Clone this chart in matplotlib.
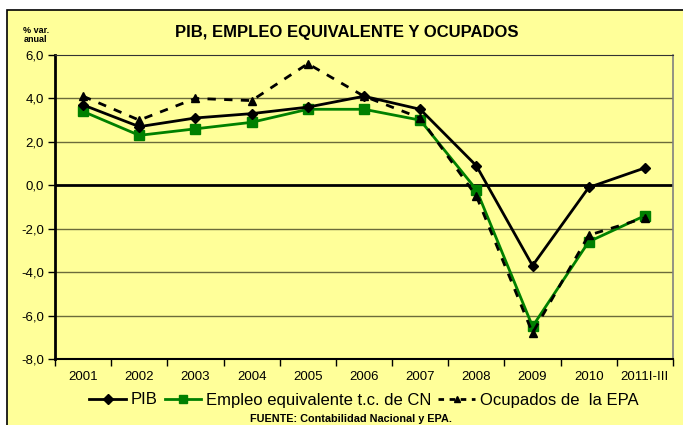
import matplotlib
matplotlib.use('Agg')
import matplotlib.pyplot as plt
from matplotlib.patches import Rectangle
from matplotlib.lines import Line2D

plt.rcParams['font.family'] = ['Liberation Sans', 'DejaVu Sans']

YEARS = ['2001', '2002', '2003', '2004', '2005', '2006', '2007', '2008',
         '2009', '2010', '2011I-III']
PIB = [3.7, 2.7, 3.1, 3.3, 3.6, 4.1, 3.5, 0.9, -3.7, -0.1, 0.8]
EMPLEO = [3.4, 2.3, 2.6, 2.9, 3.5, 3.5, 3.0, -0.2, -6.5, -2.6, -1.4]
EPA = [4.1, 3.0, 4.0, 3.9, 5.6, 4.1, 3.1, -0.5, -6.8, -2.3, -1.5]
YTICKS = [-8, -6, -4, -2, 0, 2, 4, 6]

BG = '#ffff99'
GREEN = '#008000'
GRID = '#6b6b3a'

fig = plt.figure(figsize=(6.83, 4.25), dpi=100)
fig.patch.set_facecolor('white')
W, H = 683, 425
# yellow chart frame, kept behind the axes
fig.patches.append(Rectangle((7 / W, -0.01), 1.0, (H - 10) / H + 0.01,
                             transform=fig.transFigure, facecolor=BG,
                             edgecolor='black', linewidth=1.2, zorder=-10))

ax = fig.add_axes([55 / W, (H - 359) / H, (673 - 55) / W, (359 - 55) / H])
ax.set_zorder(1)
ax.set_facecolor(BG)
xs = list(range(len(YEARS)))

ax.plot(xs, PIB, color='black', linewidth=2, marker='D', markersize=5, zorder=4)
ax.plot(xs, EMPLEO, color=GREEN, linewidth=2, marker='s', markersize=7, zorder=3)
ax.plot(xs, EPA, color='black', linewidth=2, linestyle=(0, (3, 3)),
        marker='^', markersize=6, zorder=5)

ax.set_xlim(-0.5, len(YEARS) - 0.5)
ax.set_ylim(-8, 6)
ax.set_yticks(YTICKS)
ax.set_yticklabels(['{:.1f}'.format(v).replace('.', ',') for v in YTICKS], fontsize=9.5)
for v in YTICKS:
    if v == 0:
        ax.axhline(0, color='black', linewidth=2, zorder=2)
    elif v not in (-8, 6):
        ax.axhline(v, color=GRID, linewidth=1, zorder=1)

ax.set_xticks([x - 0.5 for x in range(len(YEARS) + 1)])
ax.set_xticklabels([])
ax.set_xticks(xs, minor=True)
ax.set_xticklabels(YEARS, minor=True, fontsize=9.5)
ax.tick_params(axis='x', which='minor', length=0, pad=9)
ax.tick_params(axis='x', which='major', length=5, width=1, direction='out')
ax.tick_params(axis='y', length=5, width=1, direction='out', pad=3)

ax.spines['left'].set_linewidth(2)
ax.spines['bottom'].set_linewidth(1.5)
ax.spines['top'].set_color('#333333')
ax.spines['right'].set_color('#808080')
ax.spines['right'].set_linewidth(1.2)

fig.text(347 / W, 1 - 33 / H, 'PIB, EMPLEO EQUIVALENTE Y OCUPADOS',
         ha='center', va='center', fontsize=12, fontweight='bold')
fig.text(36 / W, 1 - 35 / H, '% var.\nanual', ha='center', va='center',
         fontsize=6.5, fontweight='bold', linespacing=1.1)

handles = [
    Line2D([], [], color='black', linewidth=2, marker='D', markersize=5),
    Line2D([], [], color=GREEN, linewidth=2, marker='s', markersize=6),
    Line2D([], [], color='black', linewidth=2, linestyle=(0, (2, 2)),
           marker='^', markersize=5),
]
fig.legend(handles, ['PIB', 'Empleo equivalente t.c. de CN', 'Ocupados de  la EPA'],
           loc='center', bbox_to_anchor=(364 / W, 1 - 400 / H), ncol=3,
           frameon=False, fontsize=12, handlelength=2.2, handletextpad=0.3,
           columnspacing=0.4, borderpad=0)
fig.text(351 / W, 1 - 419 / H, 'FUENTE: Contabilidad Nacional y EPA.',
         ha='center', va='center', fontsize=7.8, fontweight='bold')

fig.savefig('out.png', dpi=100)
